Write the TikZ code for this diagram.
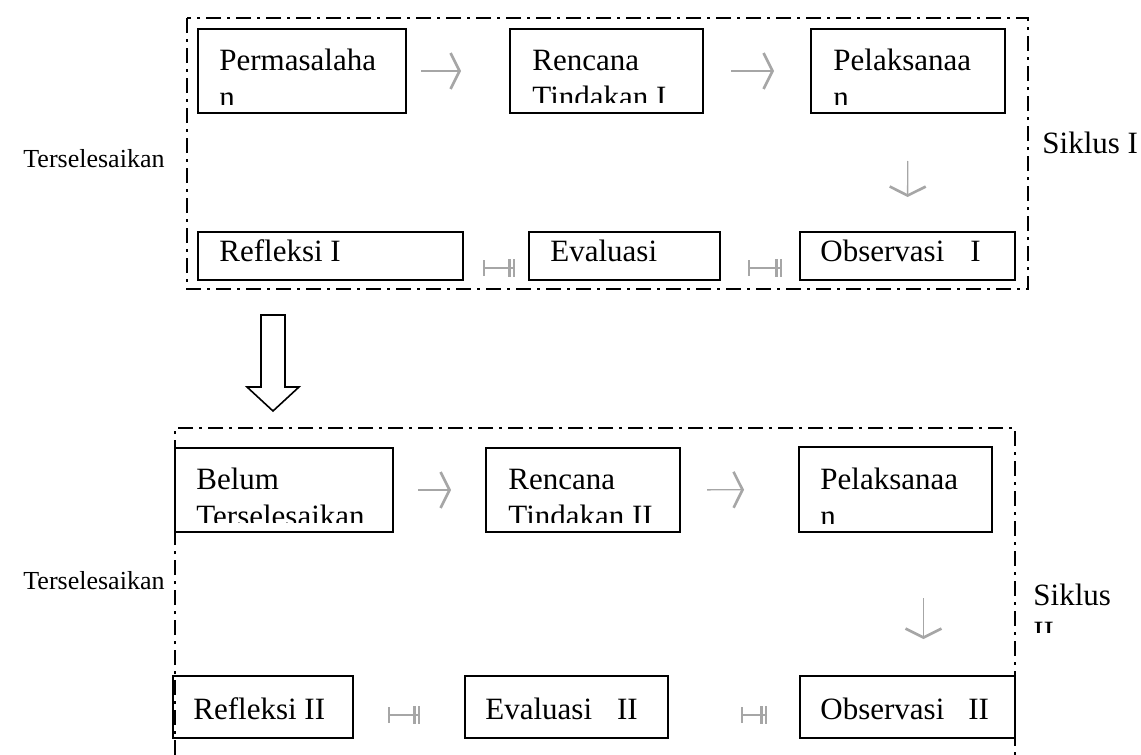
\documentclass[tikz,border=0pt]{standalone}
\usepackage{fontspec}
\setmainfont{Liberation Serif}
\usetikzlibrary{fit,arrows.meta}

\begin{document}
\begin{tikzpicture}[x=0.5pt,y=-0.5pt,
    stepbox/.style={draw, line width=1pt, inner sep=0pt},
    txt/.style={anchor=base west, inner sep=0pt, font=\fontsize{15.5}{18}\selectfont},
    small/.style={anchor=base west, inner sep=0pt, font=\fontsize{13}{15}\selectfont},
    siklusframe/.style={line width=1pt, dash pattern=on 7.5pt off 3pt on 1.5pt off 3pt},
    flow/.style={draw=black!35, line width=0.7pt, -{Straight Barb[length=4.5pt,width=18pt,line width=1.3pt]}},
    backflow/.style={draw=black!35, line width=0.9pt, {Bar[width=9pt,sep=1pt]Bar[width=9pt,sep=1pt]Bar[width=9pt]}-{Bar[width=8pt]}}
]
\useasboundingbox (0,0) rectangle (1141,755);

% siklus I
\draw[siklusframe] (187,18) rectangle (1028,289);

\node[stepbox, fit={(198,29) (406,113)}] (perm) {};
\node[stepbox, fit={(510,29) (703,113)}] (renc1) {};
\node[stepbox, fit={(811,29) (1005,113)}] (pel1) {};
\node[stepbox, fit={(198,232) (463,280)}] (refl1) {};
\node[stepbox, fit={(529,232) (720,280)}] (eval1) {};
\node[stepbox, fit={(800,232) (1015,280)}] (obs1) {};

\begin{scope}
  \clip (198,29) rectangle (406,104);
  \node[txt] at (219,70) {Permasalaha};
  \node[txt] at (219,107) {n};
\end{scope}
\begin{scope}
  \clip (510,29) rectangle (703,102);
  \node[txt] at (532,70) {Rencana};
  \node[txt] at (532,107) {Tindakan I};
\end{scope}
\begin{scope}
  \clip (811,29) rectangle (1005,104);
  \node[txt] at (833,70) {Pelaksanaa};
  \node[txt] at (833,107) {n};
\end{scope}
\node[txt] at (219,261) {Refleksi I};
\node[txt] at (550,261) {Evaluasi};
\node[txt] at (820,261) {Observasi\hspace{13pt}I};

\draw[flow, shorten <=7pt, shorten >=24pt] (perm) -- (renc1);
\draw[flow, shorten <=13.5pt, shorten >=18pt] (renc1) -- (pel1);
\draw[flow, shorten <=23.5pt, shorten >=17pt] (pel1) -- (obs1);
\draw[backflow, shorten <=7.5pt, shorten >=13.5pt] ([yshift=-6pt]obs1.west) -- ([yshift=-6pt]eval1.east);
\draw[backflow, shorten <=5.5pt, shorten >=9.5pt] ([yshift=-6pt]eval1.west) -- ([yshift=-6pt]refl1.east);

\node[small] at (23,167) {Terselesaikan};
\node[txt] at (1042,153) {Siklus I};

% panah ke siklus II
\draw[line width=0.8pt] (261,315) -- (285,315) -- (285,387) -- (299,387) -- (273,411) -- (247,387) -- (261,387) -- cycle;

% siklus II
\draw[siklusframe] (175,755) -- (175,428) -- (1015,428) -- (1015,755);

\node[stepbox, fit={(175,448) (393,532)}] (belum) {};
\node[stepbox, fit={(486,448) (680,532)}] (renc2) {};
\node[stepbox, fit={(799,447) (992,532)}] (pel2) {};
\node[stepbox, fit={(173,676) (353,738)}] (refl2) {};
\node[stepbox, fit={(465,676) (668,738)}] (eval2) {};
\node[stepbox, fit={(800,676) (1015,738)}] (obs2) {};

\begin{scope}
  \clip (175,448) rectangle (393,522);
  \node[txt] at (196,489) {Belum};
  \node[txt] at (196,526) {Terselesaikan};
\end{scope}
\begin{scope}
  \clip (486,448) rectangle (680,522);
  \node[txt] at (508,489) {Rencana};
  \node[txt] at (508,526) {Tindakan II};
\end{scope}
\begin{scope}
  \clip (799,447) rectangle (992,523);
  \node[txt] at (820,489) {Pelaksanaa};
  \node[txt] at (820,526) {n};
\end{scope}
\node[txt] at (193,719) {Refleksi II};
\node[txt] at (485,719) {Evaluasi\hspace{12.5pt}II};
\node[txt] at (820,719) {Observasi\hspace{12pt}II};

\draw[flow, shorten <=12pt, shorten >=17pt] (belum) -- (renc2);
\draw[flow, shorten <=13pt, shorten >=27pt] (renc2) -- (pel2);
\draw[flow, shorten <=32.5pt, shorten >=18pt] ([xshift=14pt]pel2.south) -- ([xshift=8pt]obs2.north);
\draw[backflow, shorten <=15pt, shorten >=36pt] ([yshift=-4pt]obs2.west) -- ([yshift=-4pt]eval2.east);
\draw[backflow, shorten <=21pt, shorten >=17pt] ([yshift=-4pt]eval2.west) -- ([yshift=-4pt]refl2.east);

\node[small] at (23,589) {Terselesaikan};
\begin{scope}
  \clip (1025,560) rectangle (1141,632);
  \node[txt] at (1033,605) {Siklus};
  \node[txt] at (1033,642) {II};
\end{scope}
\end{tikzpicture}
\end{document}
